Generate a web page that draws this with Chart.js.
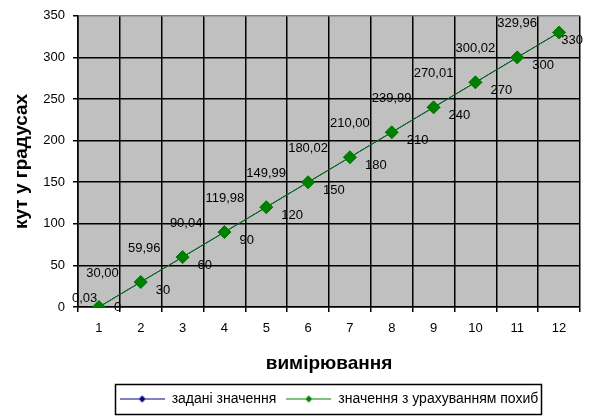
<!DOCTYPE html>
<html>
<head>
<meta charset="utf-8">
<script src="https://cdn.jsdelivr.net/npm/chart.js@4/dist/chart.umd.min.js"></script>
<style>
  html, body { margin: 0; padding: 0; background: #ffffff; }
  #wrap { width: 589px; height: 416px; position: relative; }
</style>
</head>
<body>
<div id="wrap"><canvas id="c" width="589" height="416"></canvas></div>
<script>
// measurement numbers along the x axis
const measurements = ['1', '2', '3', '4', '5', '6', '7', '8', '9', '10', '11', '12'];
// set angle values, degrees
const setValues = [0, 30, 60, 90, 120, 150, 180, 210, 240, 270, 300, 330];
// values corrected for measurement error, degrees
const correctedValues = [0.03, 30.00, 59.96, 90.04, 119.98, 149.99, 180.02, 210.00, 239.99, 270.01, 300.02, 329.96];
// y axis range and step
const yTicks = { min: 0, max: 350, step: 50 };

const seriesNames = ['задані значення', 'значення з урахуванням похиб'];
const BLUE = '#000080';
const GREEN = '#008000';
const FONT = "'Liberation Sans', Arial, sans-serif";

// small line + diamond swatch used as the legend symbol
function legendSwatch(color) {
  const cv = document.createElement('canvas');
  cv.width = 45; cv.height = 9;
  const g = cv.getContext('2d');
  g.strokeStyle = color; g.lineWidth = 1;
  g.beginPath(); g.moveTo(0, 4.5); g.lineTo(45, 4.5); g.stroke();
  g.fillStyle = color;
  g.beginPath();
  g.moveTo(22.5, 1); g.lineTo(26, 4.5); g.lineTo(22.5, 8); g.lineTo(19, 4.5);
  g.closePath(); g.fill();
  return cv;
}

// grey plot background
const plotBackground = {
  id: 'plotBackground',
  beforeDraw(chart) {
    const { ctx, chartArea: a } = chart;
    ctx.save();
    ctx.fillStyle = '#c0c0c0';
    ctx.fillRect(a.left, a.top, a.right - a.left, a.bottom - a.top);
    ctx.restore();
  }
};

// value labels next to each point, kept inside the drawing
const valueLabels = {
  id: 'valueLabels',
  afterDatasetsDraw(chart) {
    const { ctx, chartArea: a } = chart;
    ctx.save();
    ctx.font = '13px ' + FONT;
    ctx.fillStyle = '#000000';
    ctx.textBaseline = 'middle';
    ctx.textAlign = 'left';
    chart.data.datasets.forEach((ds, di) => {
      const meta = chart.getDatasetMeta(di);
      meta.data.forEach((pt, i) => {
        const v = ds.data[i];
        if (ds.labelSide === 'left') {
          const txt = v.toFixed(2).replace('.', ',');
          const w = ctx.measureText(txt).width;
          let x = pt.x - 22 - w;
          if (x < a.left - 6) x = a.left - 6;
          ctx.fillText(txt, x, pt.y - 9);
        } else {
          const txt = String(v);
          const w = ctx.measureText(txt).width;
          let x = pt.x + 15;
          if (x + w > chart.width - 6) x = chart.width - 6 - w;
          let y = pt.y + 8;
          if (y > a.bottom) y = a.bottom;
          ctx.fillText(txt, x, y);
        }
      });
    });
    ctx.restore();
  }
};

// frame around the legend
const legendFrame = {
  id: 'legendFrame',
  afterDraw(chart) {
    const lg = chart.legend;
    if (!lg || !lg.legendHitBoxes || !lg.legendHitBoxes.length) return;
    const hb = lg.legendHitBoxes;
    const first = hb[0], last = hb[hb.length - 1];
    const left = Math.round(first.left - 5) + 0.5;
    const right = Math.round(last.left + last.width + 3) + 0.5;
    const top = Math.round(first.top - 8) + 0.5;
    const bottom = Math.round(first.top + first.height + 8) + 0.5;
    const ctx = chart.ctx;
    ctx.save();
    ctx.strokeStyle = '#000000';
    ctx.lineWidth = 1.5;
    ctx.strokeRect(left, top, right - left, bottom - top);
    ctx.restore();
  }
};

const chart = new Chart(document.getElementById('c'), {
  type: 'line',
  data: {
    labels: measurements,
    datasets: [
      {
        label: seriesNames[0],
        data: setValues,
        borderColor: BLUE,
        backgroundColor: BLUE,
        borderWidth: 1,
        pointStyle: 'rectRot',
        pointRadius: 6,
        pointBorderWidth: 1,
        pointBorderColor: BLUE,
        pointBackgroundColor: BLUE,
        tension: 0,
        order: 1,
        labelSide: 'right'
      },
      {
        label: seriesNames[1],
        data: correctedValues,
        borderColor: GREEN,
        backgroundColor: GREEN,
        borderWidth: 1,
        pointStyle: 'rectRot',
        pointRadius: 6.5,
        pointBorderWidth: 1,
        pointBorderColor: GREEN,
        pointBackgroundColor: GREEN,
        tension: 0,
        order: 0,
        labelSide: 'left'
      }
    ]
  },
  options: {
    responsive: false,
    animation: false,
    devicePixelRatio: 1,
    layout: { padding: { top: 13, right: 9, bottom: 0, left: 0 } },
    plugins: {
      tooltip: { enabled: false },
      legend: {
        position: 'bottom',
        fullSize: false,
        labels: {
          usePointStyle: true,
          pointStyleWidth: 45,
          padding: 10,
          color: '#000000',
          font: { family: FONT, size: 14 },
          sort: (a, b) => a.datasetIndex - b.datasetIndex,
          generateLabels(chart) {
            return chart.data.datasets.map((ds, i) => ({
              text: ds.label,
              datasetIndex: i,
              pointStyle: legendSwatch(ds.borderColor),
              fillStyle: ds.borderColor,
              strokeStyle: ds.borderColor,
              lineWidth: 0,
              hidden: false,
              fontColor: '#000000'
            }));
          }
        }
      }
    },
    scales: {
      x: {
        type: 'category',
        offset: true,
        grid: {
          display: true,
          offset: true,
          color: (c) => (c.index === measurements.length ? '#808080' : '#000000'),
          tickColor: '#000000',
          tickLength: 5,
          lineWidth: 1.5
        },
        border: { display: true, color: '#000000', width: 1.5 },
        ticks: {
          color: '#000000',
          padding: 9,
          maxRotation: 0,
          font: { family: FONT, size: 13 }
        },
        title: {
          display: true,
          text: 'вимірювання',
          color: '#000000',
          font: { family: FONT, size: 19, weight: 'bold' },
          padding: { top: 0, bottom: 7 }
        },
        afterFit(scale) { scale.height = 75; }
      },
      y: {
        min: yTicks.min,
        max: yTicks.max,
        grid: {
          color: (c) => (c.tick && c.tick.value === yTicks.max ? '#808080' : '#000000'),
          tickColor: '#000000',
          tickLength: 5,
          lineWidth: 1.5
        },
        border: { display: true, color: '#000000', width: 1.5 },
        ticks: {
          stepSize: yTicks.step,
          color: '#000000',
          padding: 8,
          font: { family: FONT, size: 13 }
        },
        title: {
          display: true,
          text: 'кут у градусах',
          color: '#000000',
          font: { family: FONT, size: 19, weight: 'bold' },
          padding: { top: 10, bottom: 0 }
        },
        afterFit(scale) { scale.width = 78; }
      }
    }
  },
  plugins: [plotBackground, valueLabels, legendFrame]
});
</script>
</body>
</html>
